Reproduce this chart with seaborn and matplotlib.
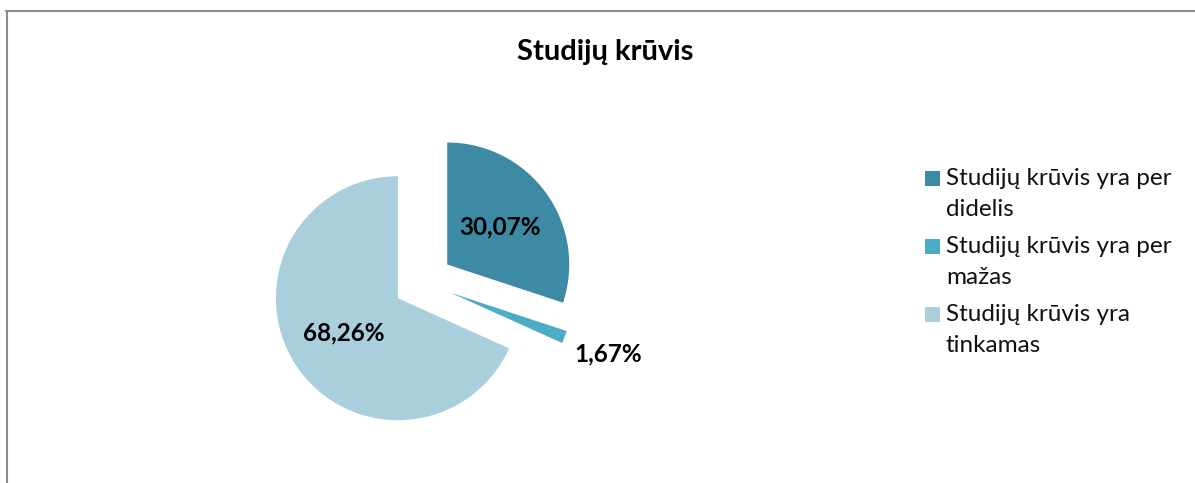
import numpy as np
import matplotlib
matplotlib.use("Agg")
import matplotlib.pyplot as plt
from matplotlib.patches import Rectangle
from matplotlib.lines import Line2D
import seaborn as sns

sns.set_theme(style="white")
plt.rcParams['font.family'] = ['Lato', 'DejaVu Sans']

# ---- data ----
title = "Studijų krūvis"
categories = ["Studijų krūvis yra per\ndidelis",
              "Studijų krūvis yra per\nmažas",
              "Studijų krūvis yra\ntinkamas"]
values = [30.07, 1.67, 68.26]
colors = ["#3C8AA3", "#4BACC6", "#A9CFDC"]

W, H = 1195, 483
cx, cy, R = 423, 282, 122  # pie centre (px from left/top) and radius (px)

fig = plt.figure(figsize=(W / 100, H / 100), dpi=100)
fig.patch.set_facecolor("white")
ax = fig.add_axes([0, 0, 1, 1])


def fmt(p):
    return f"{p:.2f}".replace(".", ",") + "%"


wedges, texts, autotexts = ax.pie(
    values, colors=colors, startangle=90, counterclock=False,
    explode=[0.245] * len(values), radius=1, autopct=fmt, pctdistance=0.53,
    wedgeprops=dict(linewidth=0),
    textprops=dict(fontsize=17.5, fontweight="bold", color="black"))

# move the small slice label outside
w = wedges[1]
th = np.deg2rad((w.theta1 + w.theta2) / 2)
ccx, ccy = w.center
autotexts[1].set_position((ccx + 1.38 * np.cos(th), ccy + 1.38 * np.sin(th)))

ax.set_xlim(-cx / R, (W - cx) / R)
ax.set_ylim(-(H - cy) / R, cy / R)
ax.set_aspect("equal", adjustable="box")
ax.axis("off")

# title
fig.text(605 / W, 1 - 52 / H, title, ha="center", va="center",
         fontsize=21, fontweight="bold", color="black")

# legend (manual)
for i, (lab, col) in enumerate(zip(categories, colors)):
    y0 = 171 + 68 * i
    fig.add_artist(Rectangle((925 / W, 1 - (y0 + 15) / H), 15 / W, 15 / H,
                             transform=fig.transFigure, facecolor=col,
                             edgecolor="none"))
    fig.text(946 / W, 1 - (y0 - 3) / H, lab, ha="left", va="top",
             fontsize=17.5, color="#111111", linespacing=1.58)

# chart border
bc = "#8C8C8C"
fig.add_artist(Line2D([6 / W, 1], [1 - 11 / H, 1 - 11 / H],
                      transform=fig.transFigure, color=bc, lw=1.5))
fig.add_artist(Line2D([7 / W, 7 / W], [0, 1 - 11 / H],
                      transform=fig.transFigure, color=bc, lw=1.5))

fig.savefig("out.png", dpi=100, facecolor="white")
